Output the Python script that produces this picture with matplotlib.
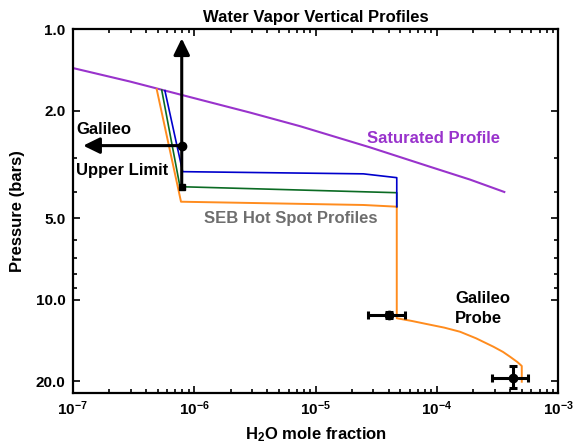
import numpy as np
import matplotlib
matplotlib.use('Agg')
import matplotlib.pyplot as plt
from matplotlib.ticker import FixedLocator, NullFormatter

plt.rcParams['font.family'] = ['Liberation Sans', 'DejaVu Sans']
plt.rcParams['font.weight'] = 'bold'
plt.rcParams['mathtext.fontset'] = 'custom'
plt.rcParams['mathtext.rm'] = 'Liberation Sans:bold'
plt.rcParams['mathtext.it'] = 'Liberation Sans:bold'
plt.rcParams['mathtext.bf'] = 'Liberation Sans:bold'

## data (mole fraction, pressure in bars)
sat_x = [1.0e-7, 2.97e-7, 1.12e-6, 2.88e-6, 7.45e-6, 2.81e-5, 8.77e-5,
         1.87e-4, 3.59e-4]
sat_p = [1.39, 1.56, 1.82, 2.03, 2.28, 2.73, 3.22, 3.59, 3.99]

blue_x = [5.75e-7, 8.05e-7, 2.48e-5, 4.67e-5, 4.67e-5]
blue_p = [1.686, 3.357, 3.42, 3.533, 4.52]

green_x = [5.41e-7, 7.65e-7, 4.67e-5, 4.67e-5]
green_p = [1.676, 3.815, 4.015, 4.52]

orange_x = [4.92e-7, 7.80e-7, 2.48e-5, 4.67e-5, 4.67e-5, 6.2e-5, 8.24e-5,
            1.15e-4, 1.55e-4, 2.1e-4, 2.92e-4, 3.5e-4, 4.00e-4, 4.6e-4,
            5.00e-4, 5.00e-4]
orange_p = [1.665, 4.335, 4.457, 4.522, 11.68, 11.95, 12.27, 12.65, 13.10,
            13.85, 14.88, 15.55, 16.20, 16.95, 17.53, 20.04]

# Galileo upper limit (point + arrows)
limit_x = 7.91e-7
limit_p = 2.69
limit_p_bottom = 3.815
limit_p_top = 1.08
limit_x_left = 1.22e-7

# Galileo probe measurements
probe_x = np.array([4.06e-5, 4.26e-4])
probe_p = np.array([11.36, 19.36])
probe_xlo = np.array([2.72e-5, 2.82e-4])
probe_xhi = np.array([5.46e-5, 5.66e-4])
probe_plo = np.array([11.1, 17.5])
probe_phi = np.array([11.65, 21.1])

ymajor = [1, 2, 5, 10, 20]
ymajor_labels = ['1.0', '2.0', '5.0', '10.0', '20.0']
yminor = [3, 4, 6, 7, 8, 9]
xmajor = [1e-7, 1e-6, 1e-5, 1e-4, 1e-3]
xmajor_labels = ['$10^{-7}$', '$10^{-6}$', '$10^{-5}$', '$10^{-4}$', '$10^{-3}$']

purple = '#9933CC'
blue = '#0000CC'
green = '#0B6B23'
orange = '#FF8C1E'

#%%
fig = plt.figure(figsize=(5.76, 4.47), dpi=100)
ax = fig.add_axes([0.1262, 0.1215, 0.8431, 0.8130])

ax.plot(sat_x, sat_p, color=purple, lw=1.5)
ax.plot(orange_x, orange_p, color=orange, lw=1.4)
ax.plot(green_x, green_p, color=green, lw=1.2)
ax.plot(blue_x, blue_p, color=blue, lw=1.2)

# upper limit arrows
arrow = dict(arrowstyle='-|>,head_length=0.45,head_width=0.22', lw=2.2,
             color='k', mutation_scale=22, shrinkA=0, shrinkB=0)
ax.annotate('', xy=(limit_x, limit_p_top), xytext=(limit_x, limit_p_bottom),
            arrowprops=arrow)
ax.annotate('', xy=(limit_x_left, limit_p), xytext=(limit_x, limit_p),
            arrowprops=arrow)
ax.plot([limit_x], [limit_p], 'o', color='k', ms=6)
ax.plot([limit_x], [limit_p_bottom], 's', color='k', ms=4)

# probe points
xerr = [probe_x - probe_xlo, probe_xhi - probe_x]
perr = [probe_p - probe_plo, probe_phi - probe_p]
ax.errorbar(probe_x, probe_p, xerr=xerr, yerr=perr, fmt='o', color='k',
            ms=6, elinewidth=2.2, capsize=3, capthick=2.2)

ax.set_xscale('log')
ax.set_yscale('log')
ax.set_xlim(1e-7, 1e-3)
ax.set_ylim(22.0, 1.0)

ax.yaxis.set_major_locator(FixedLocator(ymajor))
ax.set_yticklabels(ymajor_labels)
ax.yaxis.set_minor_locator(FixedLocator(yminor))
ax.yaxis.set_minor_formatter(NullFormatter())
ax.set_xticks(xmajor)
ax.set_xticklabels(xmajor_labels)

ax.tick_params(which='both', direction='in', top=True, right=True,
               labelsize=11, width=1.2, pad=5)
ax.tick_params(which='major', length=5)
ax.tick_params(which='minor', length=3)
for s in ax.spines.values():
    s.set_linewidth(1.6)

ax.set_title('Water Vapor Vertical Profiles', fontsize=12, fontweight='bold',
             pad=5)
ax.set_xlabel('H$_2$O mole fraction', fontsize=12, fontweight='bold', labelpad=5)
ax.set_ylabel('Pressure (bars)', fontsize=12, fontweight='bold', labelpad=8)

ax.text(1.065e-7, 2.355, 'Galileo', fontsize=12, fontweight='bold', va='center')
ax.text(1.065e-7, 3.31, 'Upper Limit', fontsize=12, fontweight='bold', va='center')
ax.text(2.64e-5, 2.527, 'Saturated Profile', fontsize=12, fontweight='bold',
        va='center', color=purple)
ax.text(1.21e-6, 5.02, 'SEB Hot Spot Profiles', fontsize=12, fontweight='bold',
        va='center', color='#6E6E6E')
ax.text(1.41e-4, 9.86, 'Galileo', fontsize=12, fontweight='bold', va='center')
ax.text(1.41e-4, 11.68, 'Probe', fontsize=12, fontweight='bold', va='center')

fig.savefig('out.png', dpi=100)
